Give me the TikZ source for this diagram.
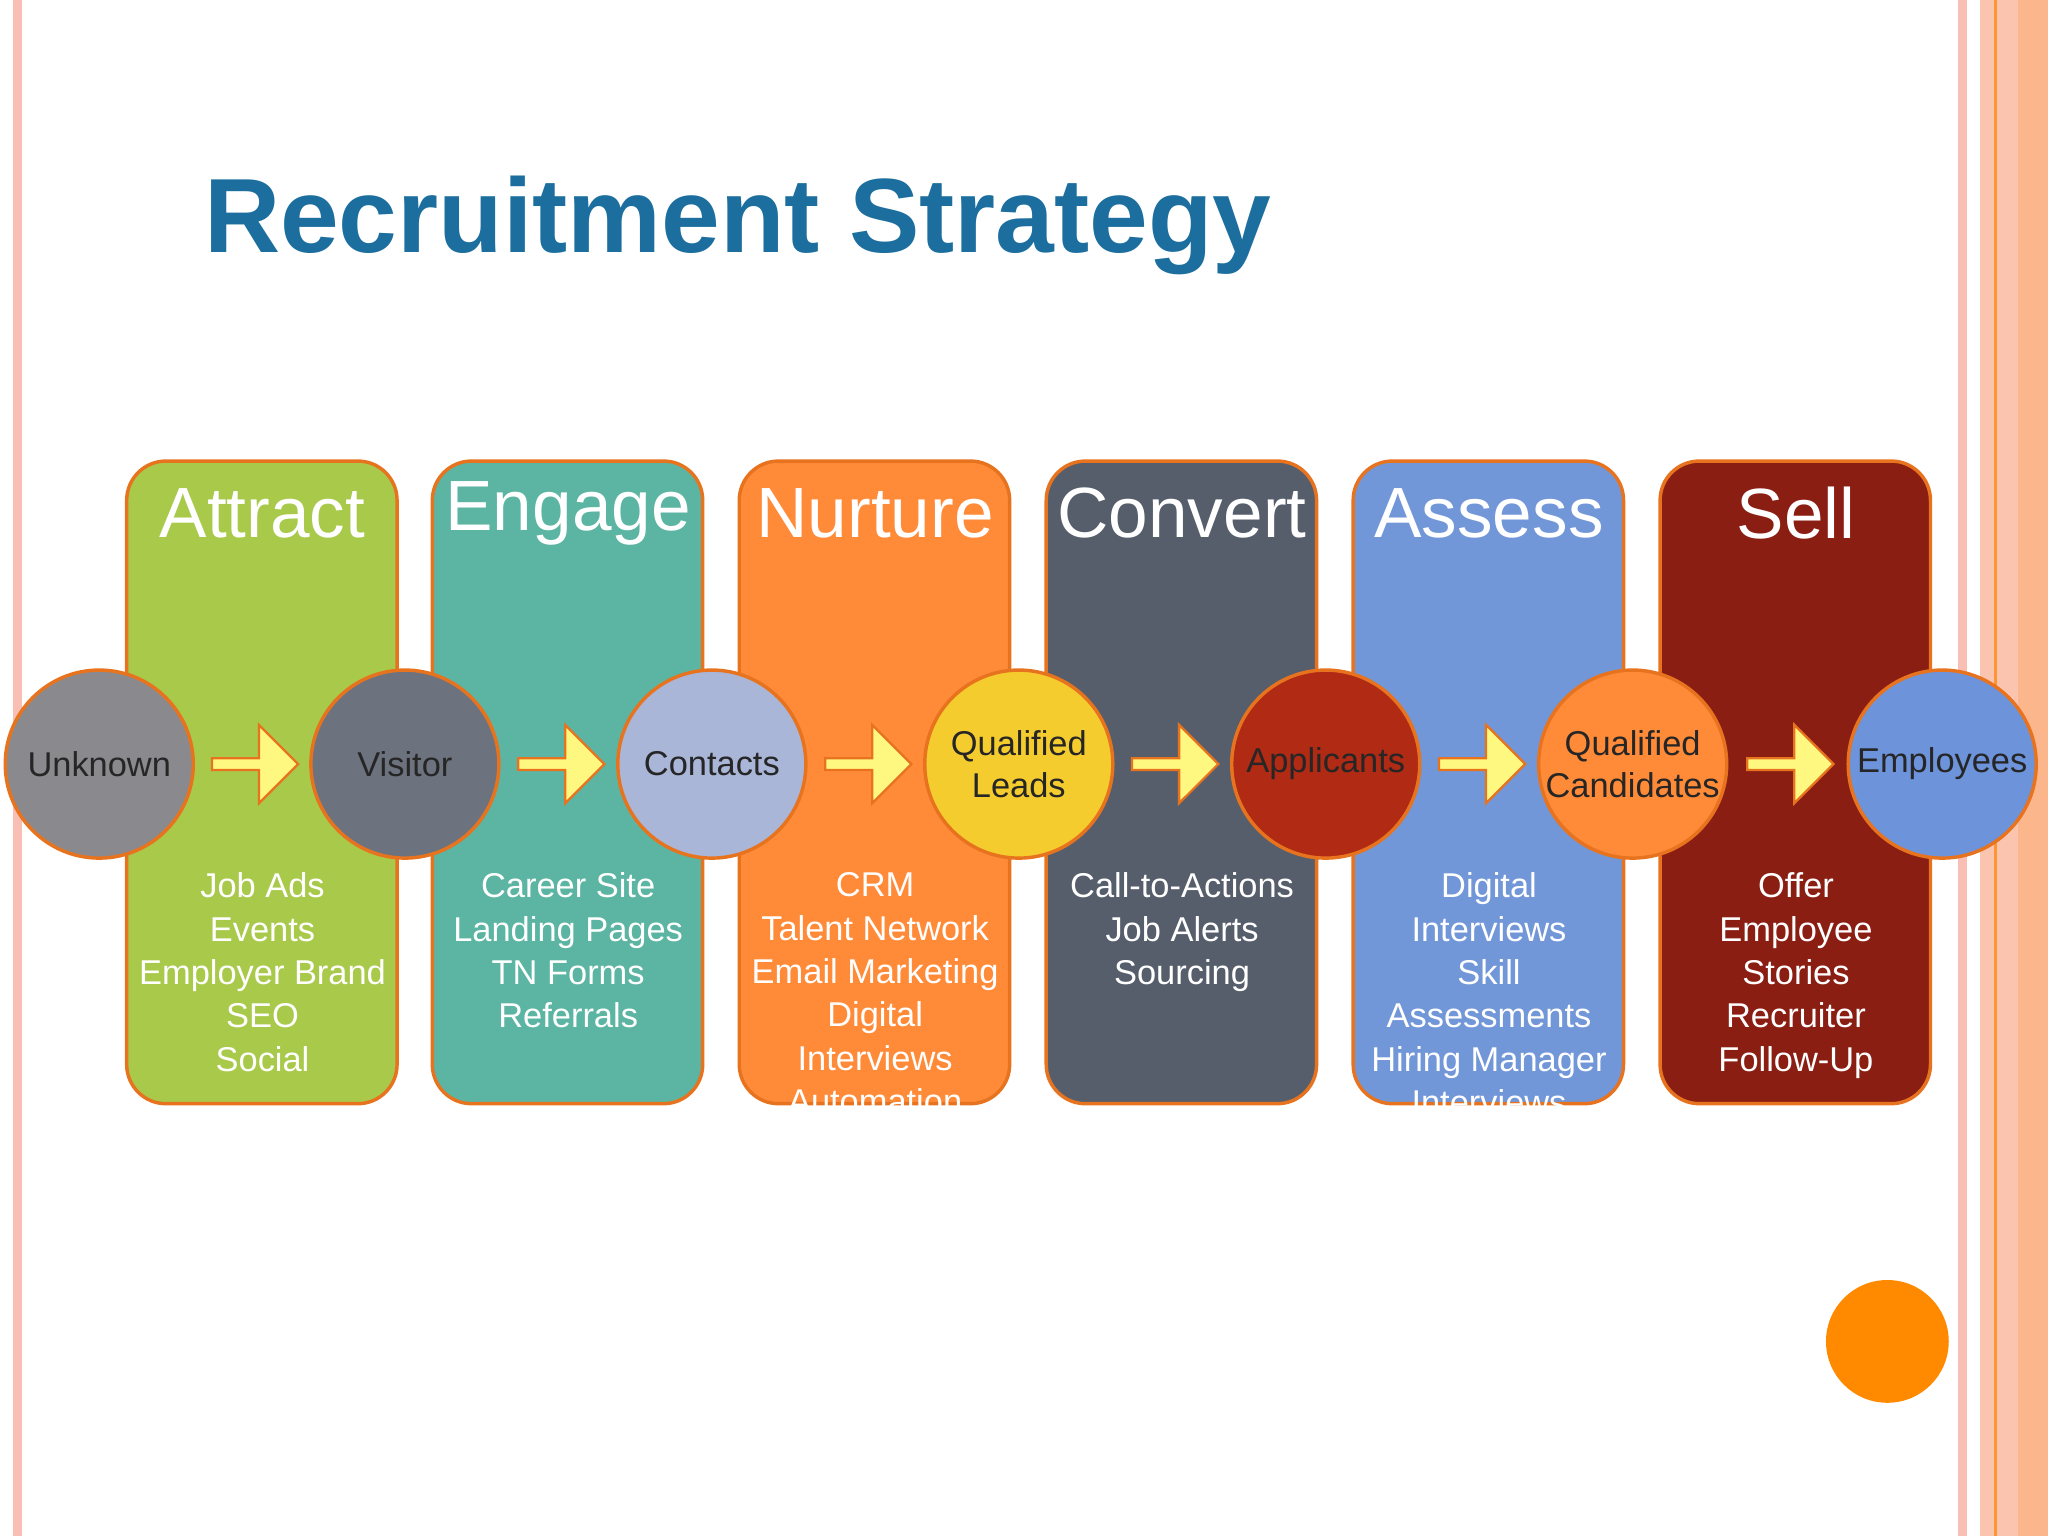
\documentclass[tikz,border=0pt]{standalone}
\usepackage{fontspec}
\setmainfont{Liberation Sans}
\usetikzlibrary{shapes.arrows,calc}
\definecolor{bord}{HTML}{E8731E}
\definecolor{titc}{HTML}{1B6E9E}
\definecolor{salm}{HTML}{FBC4AE}
\definecolor{pinkst}{HTML}{F9BFB4}
\begin{document}
\begin{tikzpicture}[x=0.02cm,y=-0.02cm,
  stage/.style={draw=bord,line width=1.5pt,rounded corners=0.6cm},
  circ/.style={circle,draw=bord,line width=1.5pt,minimum size=2.88cm,inner sep=0pt,align=center,font=\fontsize{15}{18}\selectfont,text=black!85},
  head/.style={text=white,font=\fontsize{31}{36}\selectfont},
  body/.style={text=white,align=center,font=\fontsize{15}{18.9}\selectfont,anchor=north},
  arr/.style={single arrow,draw=bord,fill=yellow!50!white,line width=1pt,minimum height=1.32cm,minimum width=1.2cm,single arrow head extend=0.1cm,inner sep=0pt}]
\useasboundingbox (0,0) rectangle (1568,1176);
\fill[white] (0,0) rectangle (1568,1176);
% decorations
\fill[pinkst] (10,0) rectangle (17,1176);
\fill[pinkst] (1499,0) rectangle (1506,1176);
\fill[salm] (1516,0) rectangle (1568,1176);
\fill[orange!70!salm] (1527,0) rectangle (1529,1176);
\fill[orange!20!salm] (1545,0) rectangle (1568,1176);
\fill[orange!80!yellow!90!red] (1445,1027) circle (47) node (dot) {};
\node[anchor=base west,text=titc,font=\fontsize{46}{50}\selectfont\bfseries] (title) at (150,193) {Recruitment Strategy};
% stages
\foreach \x/\c/\n/\h in {97/A9C94B/attract/Attract,331/5BB5A2/engage/Engage,566/FF8A38/nurture/Nurture,801/575E6B/convert/Convert,1036/7297D8/assess/Assess,1271/8B1E13/sell/Sell}{
  \definecolor{tmp}{HTML}{\c}
  \draw[stage,fill=tmp] (\x,353) rectangle ++(207,492);
  \node[head] (\n) at (\x+104,393) {\h};
}
\node[body] (b1) at (201,662) {Job Ads\\Events\\Employer Brand\\SEO\\Social};
\node[body] (b2) at (435,662) {Career Site\\Landing Pages\\TN Forms\\Referrals};
\node[body] (b3) at (670,662) {CRM\\Talent Network\\Email Marketing\\Digital\\Interviews\\Automation};
\node[body] (b4) at (905,662) {Call-to-Actions\\Job Alerts\\Sourcing};
\node[body] (b5) at (1140,662) {Digital\\Interviews\\Skill\\Assessments\\Hiring Manager\\Interviews};
\node[body] (b6) at (1375,662) {Offer\\Employee\\Stories\\Recruiter\\Follow-Up};
% circles
\node[circ,fill={rgb,255:red,138;green,138;blue,142}] (c1) at (76,585) {Unknown};
\node[circ,fill={rgb,255:red,109;green,115;blue,126}] (c2) at (310,585) {Visitor};
\node[circ,fill={rgb,255:red,169;green,182;blue,216}] (c3) at (545,585) {Contacts};
\node[circ,fill={rgb,255:red,245;green,204;blue,46}] (c4) at (780,585) {Qualified\\Leads};
\node[circ,fill={rgb,255:red,176;green,42;blue,20}] (c5) at (1015,585) {Applicants};
\node[circ,fill={rgb,255:red,255;green,138;blue,56}] (c6) at (1250,585) {Qualified\\Candidates};
\node[circ,fill={rgb,255:red,109;green,147;blue,219}] (c7) at (1487,585) {Employees};
\foreach \a/\b in {c1/c2,c2/c3,c3/c4,c4/c5,c5/c6,c6/c7}
  \node[arr] at ($(\a)!0.5!(\b)$) {};
\end{tikzpicture}
\end{document}
